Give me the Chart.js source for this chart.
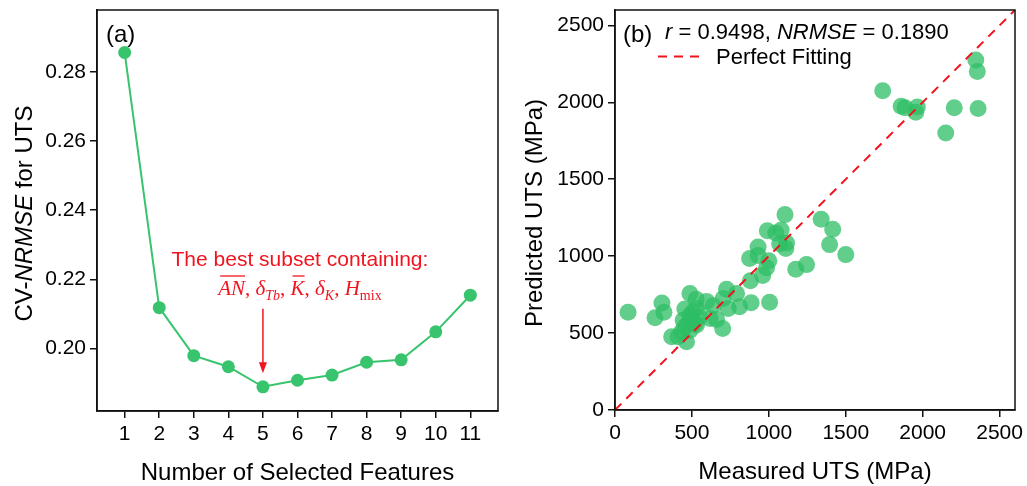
<!DOCTYPE html>
<html>
<head>
<meta charset="utf-8">
<script src="https://cdn.jsdelivr.net/npm/chart.js@4"></script>
<style>
  html, body { margin: 0; padding: 0; background: #fff; }
  #wrap { position: relative; width: 1027px; height: 486px; }
  #left { position: absolute; left: 0; top: 0; }
  #right { position: absolute; left: 510px; top: 0; }
</style>
</head>
<body>
<div id="wrap">
  <canvas id="left" width="510" height="486"></canvas>
  <canvas id="right" width="517" height="486"></canvas>
</div>
<script>
// panel (a): CV error vs number of features
const features = [1, 2, 3, 4, 5, 6, 7, 8, 9, 10, 11];
const cvNrmse = [0.2856, 0.2118, 0.1979, 0.1947, 0.1889, 0.1908, 0.1923, 0.1960, 0.1967, 0.2048, 0.2154];
const leftXTicks = [1, 2, 3, 4, 5, 6, 7, 8, 9, 10, 11];
const leftYTicks = [0.20, 0.22, 0.24, 0.26, 0.28];

// panel (b): measured vs predicted UTS (MPa)
const measured = [
    1740, 1860, 1885, 1965, 1955, 2345, 2355, 2205, 2360, 2150,
    1105, 1340, 1415, 1395, 1500, 990, 1045, 1080, 1115, 1110, 1070, 930, 875, 930,
    1000, 985, 960, 880, 1175, 1245, 1005, 885, 790, 810, 725, 703, 736, 700,
    85, 305, 318, 260, 487, 528, 595, 638, 454, 508, 530, 487, 552, 617, 660,
    498, 476, 530, 454, 487, 433, 368, 410, 465, 443, 519
];
const predicted = [
    2075, 1975, 1965, 1970, 1935, 2275, 2200, 1965, 1960, 1800,
    1270, 1240, 1175, 1075, 1010, 1165, 1150, 1170, 1085, 1050, 1080, 1060, 985, 1005,
    970, 925, 875, 840, 915, 945, 700, 697, 757, 671, 785, 725, 660, 530,
    636, 695, 636, 600, 757, 720, 706, 678, 657, 638, 660, 617, 606, 595, 589,
    595, 563, 552, 541, 519, 509, 476, 476, 443, 584, 563
];
const fitLine = [0, 2600];
const rightTicks = [0, 500, 1000, 1500, 2000, 2500];

const SANS = '"Liberation Sans", Arial, sans-serif';
const SERIF = '"Liberation Serif", "Times New Roman", serif';
const GREEN = '#38c46d';
const RED = '#f0141e';

Chart.defaults.font.family = SANS;
Chart.defaults.color = '#000';

function makeAxis(min, max, ticks, size, fmt) {
    return {
        type: 'linear',
        min: min,
        max: max,
        afterBuildTicks: s => { s.ticks = ticks.map(v => ({ value: v })); },
        afterFit: s => {
            if (s.isHorizontal()) s.height = size; else s.width = size;
            s.paddingLeft = 0; s.paddingRight = 0; s.paddingTop = 0; s.paddingBottom = 0;
        },
        grid: { drawOnChartArea: false, drawTicks: true, tickLength: 7, color: '#111', lineWidth: 1.5 },
        border: { display: true, color: '#111', width: 1.5 },
        ticks: { color: '#000', font: { size: 21 }, padding: 4, autoSkip: false, maxRotation: 0, callback: fmt }
    };
}

// draw a run of text pieces with mixed styles, returns total width
function drawPieces(ctx, pieces, x, y, measureOnly) {
    let cx = x;
    pieces.forEach(p => {
        ctx.font = p.font;
        const w = ctx.measureText(p.t).width;
        if (!measureOnly) {
            ctx.fillText(p.t, cx, y + (p.dy || 0));
            if (p.over) {
                ctx.save();
                ctx.lineWidth = 1.3;
                ctx.beginPath();
                ctx.moveTo(cx + 2, y - 19);
                ctx.lineTo(cx + w, y - 19);
                ctx.stroke();
                ctx.restore();
            }
        }
        cx += w;
    });
    return cx - x;
}

function frame(chart) {
    const a = chart.chartArea;
    const ctx = chart.ctx;
    ctx.save();
    ctx.strokeStyle = '#111';
    ctx.lineWidth = 1.5;
    ctx.strokeRect(a.left, a.top, a.right - a.left, a.bottom - a.top);
    ctx.restore();
}

const leftDecor = {
    id: 'leftDecor',
    afterDraw(chart) {
        frame(chart);
        const ctx = chart.ctx;
        const a = chart.chartArea;
        const xs = chart.scales.x, ys = chart.scales.y;
        ctx.save();
        ctx.fillStyle = '#000';
        ctx.textBaseline = 'alphabetic';

        // panel label
        ctx.font = '24px ' + SANS;
        ctx.fillText('(a)', a.left + 9, 41.5);

        // x title
        ctx.textAlign = 'center';
        ctx.fillText('Number of Selected Features', (a.left + a.right) / 2, 480);

        // y title, mixed italic
        ctx.textAlign = 'left';
        const yPieces = [
            { t: 'CV-', font: '24px ' + SANS },
            { t: 'NRMSE', font: 'italic 24px ' + SANS },
            { t: ' for UTS', font: '24px ' + SANS }
        ];
        const tw = drawPieces(ctx, yPieces, 0, 0, true);
        ctx.translate(32, (a.top + a.bottom) / 2 + 3);
        ctx.rotate(-Math.PI / 2);
        drawPieces(ctx, yPieces, -tw / 2, 0);
        ctx.restore();

        // annotation
        ctx.save();
        ctx.fillStyle = RED;
        ctx.strokeStyle = RED;
        const cx = xs.getPixelForValue(6.07);
        ctx.font = '21px ' + SANS;
        ctx.textAlign = 'center';
        ctx.fillText('The best subset containing:', cx, 266);
        ctx.textAlign = 'left';
        const it = 'italic 21px ' + SERIF, rm = '21px ' + SERIF;
        const itS = 'italic 14px ' + SERIF, rmS = '14px ' + SERIF;
        const math = [
            { t: 'AN', font: it, over: true }, { t: ', ', font: rm },
            { t: '\u03B4', font: it }, { t: 'Tb', font: itS, dy: 5 }, { t: ', ', font: rm },
            { t: 'K', font: it, over: true }, { t: ', ', font: rm },
            { t: '\u03B4', font: it }, { t: 'K', font: itS, dy: 5 }, { t: ', ', font: rm },
            { t: 'H', font: it }, { t: 'mix', font: rmS, dy: 5 }
        ];
        const mw = drawPieces(ctx, math, 0, 0, true);
        drawPieces(ctx, math, cx - mw / 2, 295);

        // arrow to the best subset
        const ax = xs.getPixelForValue(5);
        const y0 = ys.getPixelForValue(0.2115);
        const y1 = ys.getPixelForValue(0.1928);
        ctx.lineWidth = 1.5;
        ctx.beginPath();
        ctx.moveTo(ax, y0);
        ctx.lineTo(ax, y1 - 8);
        ctx.stroke();
        ctx.beginPath();
        ctx.moveTo(ax - 4, y1 - 11);
        ctx.lineTo(ax + 4, y1 - 11);
        ctx.lineTo(ax, y1);
        ctx.closePath();
        ctx.fill();
        ctx.restore();
    }
};

const rightDecor = {
    id: 'rightDecor',
    afterDraw(chart) {
        frame(chart);
        const ctx = chart.ctx;
        const a = chart.chartArea;
        ctx.save();
        ctx.fillStyle = '#000';
        ctx.textBaseline = 'alphabetic';

        ctx.font = '24px ' + SANS;
        ctx.fillText('(b)', a.left + 8, 41.5);

        ctx.textAlign = 'center';
        ctx.fillText('Measured UTS (MPa)', (a.left + a.right) / 2, 479);

        ctx.translate(32, (a.top + a.bottom) / 2 + 3);
        ctx.rotate(-Math.PI / 2);
        ctx.fillText('Predicted UTS (MPa)', 0, 0);
        ctx.restore();

        ctx.save();
        ctx.fillStyle = '#000';
        ctx.textAlign = 'left';
        const stats = [
            { t: 'r', font: 'italic 22px ' + SANS },
            { t: ' = 0.9498, ', font: '22px ' + SANS },
            { t: 'NRMSE', font: 'italic 22px ' + SANS },
            { t: ' = 0.1890', font: '22px ' + SANS }
        ];
        drawPieces(ctx, stats, a.left + 50, 38.7);

        // legend entry for the dashed line
        ctx.strokeStyle = RED;
        ctx.lineWidth = 2;
        ctx.setLineDash([9, 7]);
        ctx.beginPath();
        ctx.moveTo(a.left + 43, 56.5);
        ctx.lineTo(a.left + 91, 56.5);
        ctx.stroke();
        ctx.setLineDash([]);
        ctx.font = '22px ' + SANS;
        ctx.fillText('Perfect Fitting', a.left + 101, 63.7);
        ctx.restore();
    }
};

new Chart(document.getElementById('left'), {
    type: 'line',
    data: {
        datasets: [{
            data: features.map((f, i) => ({ x: f, y: cvNrmse[i] })),
            borderColor: GREEN,
            backgroundColor: GREEN,
            borderWidth: 2,
            pointRadius: 6.5,
            pointBorderWidth: 0,
            pointBackgroundColor: GREEN,
            tension: 0
        }]
    },
    options: {
        responsive: false,
        animation: false,
        layout: { padding: { top: 10, right: 12, left: 0, bottom: 0 } },
        plugins: { legend: { display: false }, tooltip: { enabled: false } },
        scales: {
            x: makeAxis(0.2, 11.8, leftXTicks, 75, v => String(v)),
            y: makeAxis(0.1819, 0.2979, leftYTicks, 97, v => v.toFixed(2))
        }
    },
    plugins: [leftDecor]
});

new Chart(document.getElementById('right'), {
    type: 'scatter',
    data: {
        datasets: [{
            type: 'line',
            data: fitLine.map(v => ({ x: v, y: v })),
            borderColor: RED,
            borderWidth: 2,
            borderDash: [9, 7],
            pointRadius: 0,
            fill: false
        }, {
            data: measured.map((m, i) => ({ x: m, y: predicted[i] })),
            pointRadius: 8.5,
            pointBorderWidth: 0,
            backgroundColor: 'rgba(46,190,100,0.75)',
            pointBackgroundColor: 'rgba(46,190,100,0.75)'
        }]
    },
    options: {
        responsive: false,
        animation: false,
        layout: { padding: { top: 10, right: 12, left: 0, bottom: 0 } },
        plugins: { legend: { display: false }, tooltip: { enabled: false } },
        scales: {
            x: makeAxis(0, 2600, rightTicks, 76, v => String(v)),
            y: makeAxis(0, 2600, rightTicks, 105, v => String(v))
        }
    },
    plugins: [rightDecor]
});
</script>
</body>
</html>
